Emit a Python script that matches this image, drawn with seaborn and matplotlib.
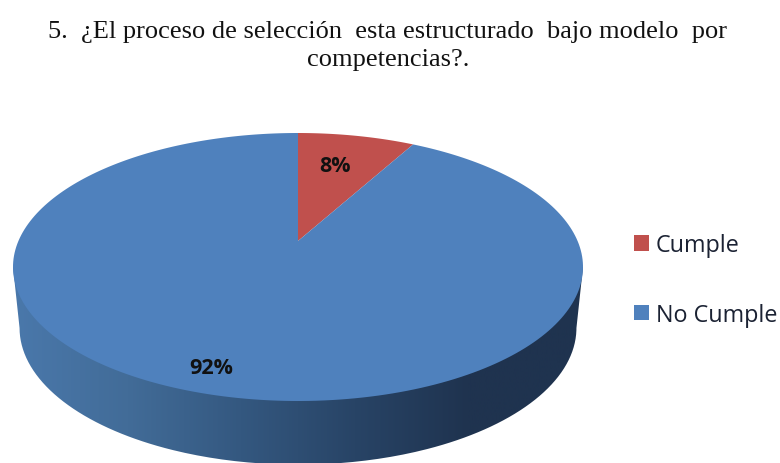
import numpy as np
import matplotlib
matplotlib.use("Agg")
import matplotlib.pyplot as plt
import seaborn as sns
from matplotlib.path import Path
from matplotlib.transforms import Affine2D, Transform

# --- Datos ---
labels = ["Cumple", "No Cumple"]
values = [8, 92]
slice_colors = ["#C0504D", "#4F81BD"]
title = "5.  ¿El proceso de selección  esta estructurado  bajo modelo  por\ncompetencias?."
side_colors = ["#4A78AB", "#426C98", "#345880", "#284466", "#1F334F", "#1F334F"]

W, H = 780, 464
# elipse de la cara superior en pixeles
CX, CY, RX, RY = 298, 268, 285, 134
APEX = 26 / RY  # el vertice queda por encima del centro (perspectiva)

sns.set_theme(style="white")
plt.rcParams['font.family'] = ['Open Sans', 'DejaVu Sans']


class Perspective(Transform):
    """Lleva el circulo unidad a si mismo, moviendo el centro hacia arriba."""
    input_dims = 2
    output_dims = 2

    def transform_non_affine(self, xy):
        xy = np.asarray(xy, dtype=float)
        d = 1 + APEX * xy[:, 1]
        return np.column_stack([xy[:, 0] * np.sqrt(1 - APEX ** 2) / d, (xy[:, 1] + APEX) / d])

    def transform_path_non_affine(self, path):
        poly = path.to_polygons(Affine2D().scale(2000))[0] / 2000
        return Path(self.transform_non_affine(poly), closed=True)


fig = plt.figure(figsize=(W / 100, H / 100), dpi=100)
ax = fig.add_axes([0, 0, 1, 1])

wedges, _, autotexts = ax.pie(values, colors=slice_colors, startangle=90, counterclock=False,
                              autopct='%d%%', wedgeprops={'linewidth': 0},
                              textprops={'fontsize': 15.5, 'fontweight': 'bold', 'color': '#111111'})
for w in wedges:
    w.set_transform(Perspective() + ax.transData)

# pared lateral con degradado
DEPTH, SIDE_RX, SIDE_RY = 0.455, 0.977, 1.02
t = np.linspace(np.pi, 2 * np.pi, 200)
side_x = np.r_[-1, SIDE_RX * np.cos(t), 1]
side_y = np.r_[0, SIDE_RY * np.sin(t) - DEPTH, 0]
side_path = Path(np.column_stack([side_x, side_y]), closed=False)
grad = np.linspace(0, 1, 256).reshape(1, -1)
im = ax.imshow(grad, cmap=sns.blend_palette(side_colors, as_cmap=True), aspect='auto',
               extent=(-1, 1, -2, 1), zorder=0)
im.set_clip_path(side_path, ax.transData)

ax.set_aspect('auto')
ax.set_xlim(-CX / RX, (W - CX) / RX)
ax.set_ylim(-(H - CY) / RY, CY / RY)

# etiquetas de porcentaje
autotexts[0].set_position(((335 - CX) / RX, (CY - 167) / RY))
autotexts[1].set_position(((211 - CX) / RX, (CY - 369) / RY))

fig.text(388 / W, 1 - 46 / H, title, ha='center', va='center', color='#111111',
         family='Liberation Serif', fontsize=19, linespacing=1.38)

leg = ax.legend(wedges, labels, loc='center left', bbox_to_anchor=(634 / W, 1 - 281 / H),
                frameon=False, fontsize=16.8, handlelength=0.64, handleheight=0.64,
                handletextpad=0.3, labelspacing=1.97, borderpad=0, borderaxespad=0,
                labelcolor='#1B2233')

fig.savefig('out.png', dpi=100)
